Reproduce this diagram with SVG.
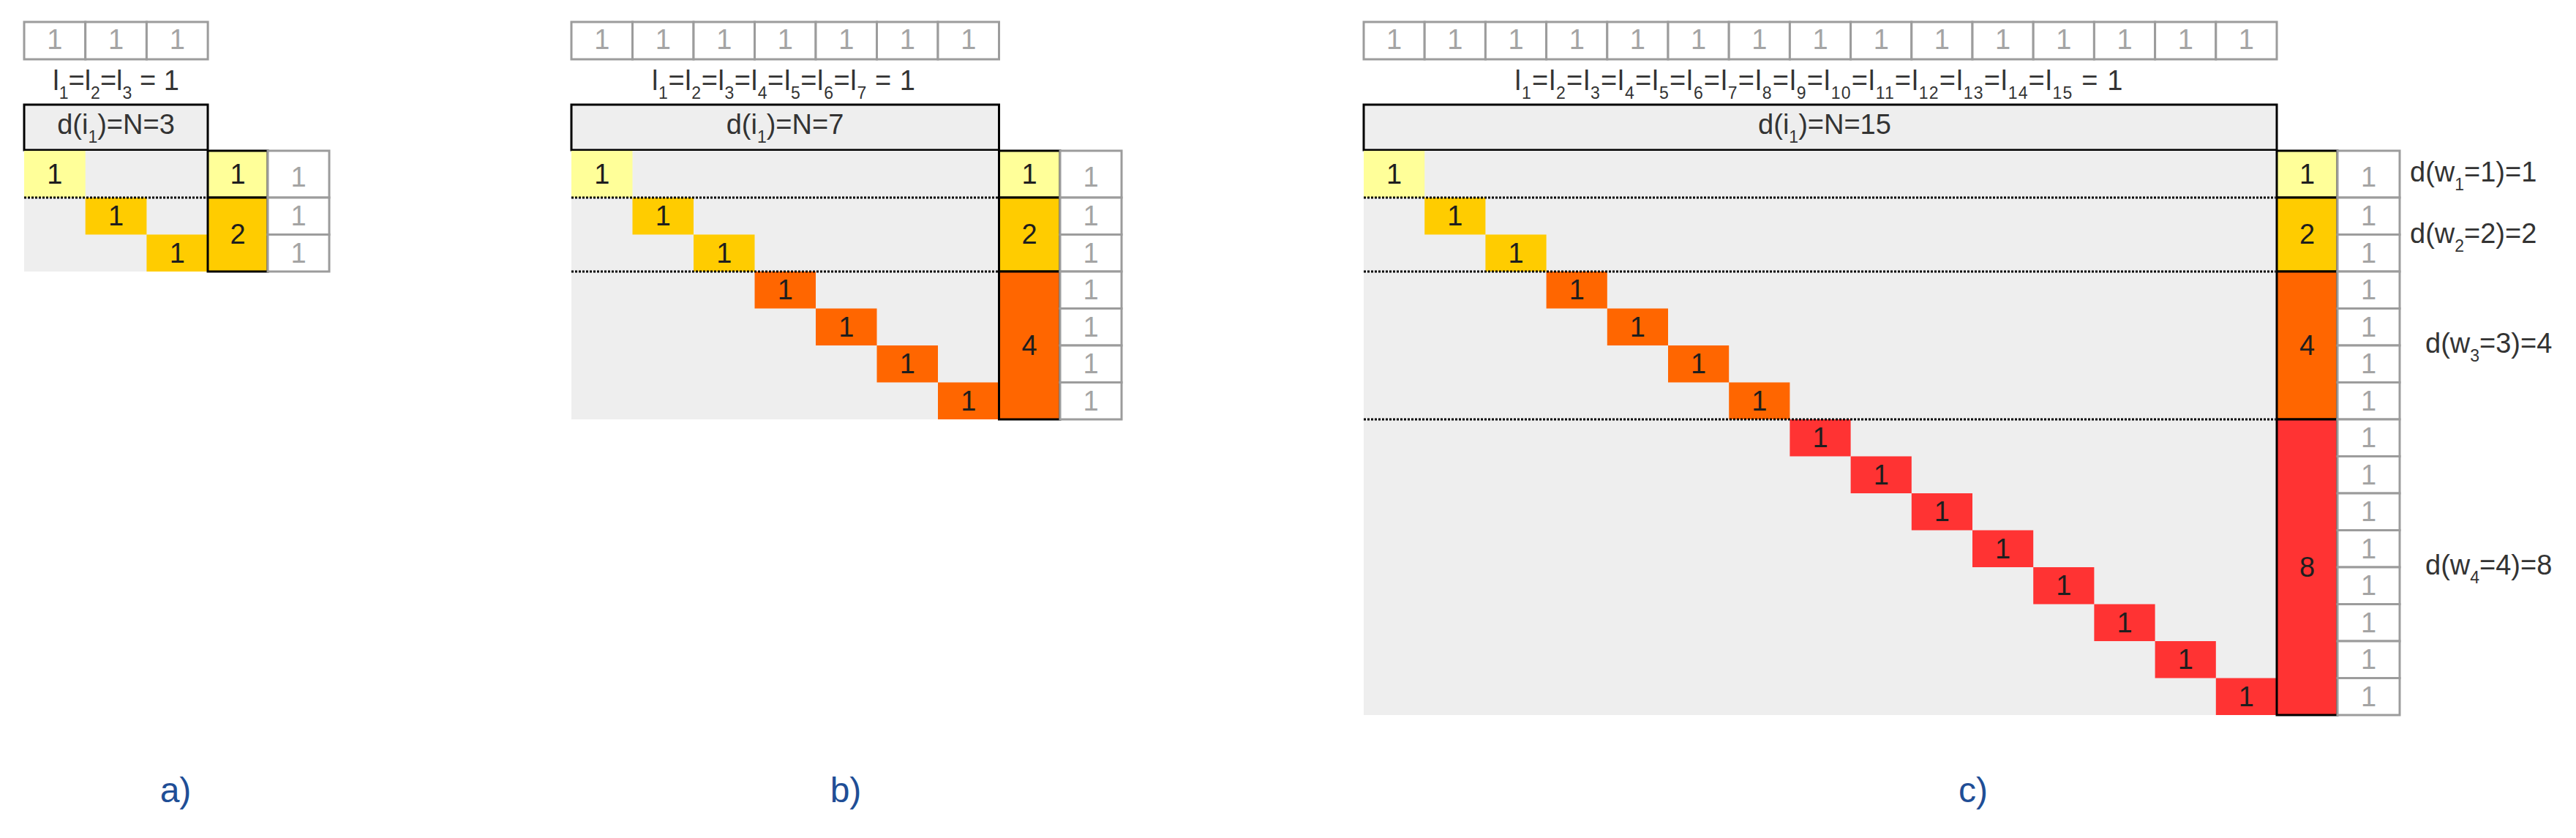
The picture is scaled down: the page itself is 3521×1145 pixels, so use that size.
<svg xmlns="http://www.w3.org/2000/svg" width="3521" height="1145" viewBox="0 0 3521 1145">
<style>
.gbox{fill:#fff;stroke:#9c9c9c;stroke-width:3}
.bg{fill:#eeeeee}
.hdr{fill:#eeeeee;stroke:#000;stroke-width:3}
.blk{stroke:#000;stroke-width:3}
.dot{stroke:#000;stroke-width:3;stroke-dasharray:3 2;fill:none}
.c1{fill:#ffff99}.c2{fill:#ffcc00}.c3{fill:#ff6600}.c4{fill:#ff3333}
text{font-family:"Liberation Sans",Arial,sans-serif;font-size:38px}
.n{text-anchor:middle;fill:#1e1e1e}
.g{text-anchor:middle;fill:#a4a4a4}
.lbl{text-anchor:middle;fill:#333}
.rl{fill:#333}
.sub{font-size:23px}
.cap{font-size:48px;fill:#1f4e96;text-anchor:middle}
</style>
<rect width="3521" height="1145" fill="#fff"/>

<!-- ================= PANEL A ================= -->
<g id="panel-a">
 <g id="a-top">
  <rect class="gbox" x="33" y="30" width="83.7" height="51"/>
  <rect class="gbox" x="116.7" y="30" width="83.7" height="51"/>
  <rect class="gbox" x="200.4" y="30" width="83.7" height="51"/>
  <text class="g" x="74.85" y="67">1</text>
  <text class="g" x="158.55" y="67">1</text>
  <text class="g" x="242.25" y="67">1</text>
 </g>
 <g id="a-label">
  <text class="lbl" x="158.5" y="123">l<tspan class="sub" dy="12">1</tspan><tspan dy="-12">=l</tspan><tspan class="sub" dy="12">2</tspan><tspan dy="-12">=l</tspan><tspan class="sub" dy="12">3</tspan><tspan dy="-12"> = 1</tspan></text>
 </g>
 <g id="a-header">
  <rect class="hdr" x="33" y="143" width="251" height="62"/>
  <text class="lbl" x="158.5" y="183">d(i<tspan class="sub" dy="12">1</tspan><tspan dy="-12">)=N=3</tspan></text>
 </g>
 <g id="a-matrix">
  <rect class="bg" x="33" y="206" width="251" height="165"/>
  <rect class="c1" x="33" y="206" width="83.7" height="64"/>
  <rect class="c2" x="116.7" y="270" width="83.7" height="50.5"/>
  <rect class="c2" x="200.4" y="320.5" width="83.7" height="50.5"/>
  <text class="n" x="74.85" y="251">1</text>
  <text class="n" x="158.55" y="308">1</text>
  <text class="n" x="242.25" y="359">1</text>
  <line class="dot" x1="33" y1="270" x2="282" y2="270"/>
 </g>
 <g id="a-weights">
  <rect class="c1 blk" x="284" y="206" width="82" height="64"/>
  <rect class="c2 blk" x="284" y="270" width="82" height="101"/>
  <text class="n" x="325" y="251">1</text>
  <text class="n" x="325" y="333">2</text>
 </g>
 <g id="a-ones">
  <rect class="gbox" x="366" y="206" width="84" height="64"/>
  <rect class="gbox" x="366" y="270" width="84" height="50.5"/>
  <rect class="gbox" x="366" y="320.5" width="84" height="50.5"/>
  <text class="g" x="408" y="255">1</text>
  <text class="g" x="408" y="308">1</text>
  <text class="g" x="408" y="359">1</text>
 </g>
 <text id="a-caption" class="cap" x="240" y="1096">a)</text>
</g>

<!-- ================= PANEL B ================= -->
<g id="panel-b">
 <g id="b-top">
  <rect class="gbox" x="781" y="30" width="83.5" height="51"/>
  <rect class="gbox" x="864.5" y="30" width="83.5" height="51"/>
  <rect class="gbox" x="948" y="30" width="83.5" height="51"/>
  <rect class="gbox" x="1031.5" y="30" width="83.5" height="51"/>
  <rect class="gbox" x="1115" y="30" width="83.5" height="51"/>
  <rect class="gbox" x="1198.5" y="30" width="83.5" height="51"/>
  <rect class="gbox" x="1282" y="30" width="83.5" height="51"/>
  <text class="g" x="822.75" y="67">1</text>
  <text class="g" x="906.25" y="67">1</text>
  <text class="g" x="989.75" y="67">1</text>
  <text class="g" x="1073.25" y="67">1</text>
  <text class="g" x="1156.75" y="67">1</text>
  <text class="g" x="1240.25" y="67">1</text>
  <text class="g" x="1323.75" y="67">1</text>
 </g>
 <g id="b-label">
  <text class="lbl" x="1071" y="123" textLength="360" lengthAdjust="spacing">l<tspan class="sub" dy="12">1</tspan><tspan dy="-12">=l</tspan><tspan class="sub" dy="12">2</tspan><tspan dy="-12">=l</tspan><tspan class="sub" dy="12">3</tspan><tspan dy="-12">=l</tspan><tspan class="sub" dy="12">4</tspan><tspan dy="-12">=l</tspan><tspan class="sub" dy="12">5</tspan><tspan dy="-12">=l</tspan><tspan class="sub" dy="12">6</tspan><tspan dy="-12">=l</tspan><tspan class="sub" dy="12">7</tspan><tspan dy="-12"> = 1</tspan></text>
 </g>
 <g id="b-header">
  <rect class="hdr" x="781" y="143" width="584.5" height="62"/>
  <text class="lbl" x="1073" y="183">d(i<tspan class="sub" dy="12">1</tspan><tspan dy="-12">)=N=7</tspan></text>
 </g>
 <g id="b-matrix">
  <rect class="bg" x="781" y="206" width="584.5" height="367"/>
  <rect class="c1" x="781" y="206" width="83.5" height="64"/>
  <rect class="c2" x="864.5" y="270" width="83.5" height="50.5"/>
  <rect class="c2" x="948" y="320.5" width="83.5" height="50.5"/>
  <rect class="c3" x="1031.5" y="371" width="83.5" height="50.5"/>
  <rect class="c3" x="1115" y="421.5" width="83.5" height="50.5"/>
  <rect class="c3" x="1198.5" y="472" width="83.5" height="50.5"/>
  <rect class="c3" x="1282" y="522.5" width="83.5" height="50.5"/>
  <text class="n" x="822.75" y="251">1</text>
  <text class="n" x="906.25" y="308">1</text>
  <text class="n" x="989.75" y="359">1</text>
  <text class="n" x="1073.25" y="409">1</text>
  <text class="n" x="1156.75" y="460">1</text>
  <text class="n" x="1240.25" y="510">1</text>
  <text class="n" x="1323.75" y="561">1</text>
  <line class="dot" x1="781" y1="270" x2="1364" y2="270"/>
  <line class="dot" x1="781" y1="371" x2="1364" y2="371"/>
 </g>
 <g id="b-weights">
  <rect class="c1 blk" x="1365.5" y="206" width="83.5" height="64"/>
  <rect class="c2 blk" x="1365.5" y="270" width="83.5" height="101"/>
  <rect class="c3 blk" x="1365.5" y="371" width="83.5" height="202"/>
  <text class="n" x="1407" y="251">1</text>
  <text class="n" x="1407" y="333">2</text>
  <text class="n" x="1407" y="485">4</text>
 </g>
 <g id="b-ones">
  <rect class="gbox" x="1449" y="206" width="84" height="64"/>
  <rect class="gbox" x="1449" y="270" width="84" height="50.5"/>
  <rect class="gbox" x="1449" y="320.5" width="84" height="50.5"/>
  <rect class="gbox" x="1449" y="371" width="84" height="50.5"/>
  <rect class="gbox" x="1449" y="421.5" width="84" height="50.5"/>
  <rect class="gbox" x="1449" y="472" width="84" height="50.5"/>
  <rect class="gbox" x="1449" y="522.5" width="84" height="50.5"/>
  <text class="g" x="1491" y="255">1</text>
  <text class="g" x="1491" y="308">1</text>
  <text class="g" x="1491" y="359">1</text>
  <text class="g" x="1491" y="409">1</text>
  <text class="g" x="1491" y="460">1</text>
  <text class="g" x="1491" y="510">1</text>
  <text class="g" x="1491" y="561">1</text>
 </g>
 <text id="b-caption" class="cap" x="1156" y="1096">b)</text>
</g>

<!-- ================= PANEL C ================= -->
<g id="panel-c">
 <g id="c-top">
  <rect class="gbox" x="1864" y="30" width="83.2" height="51"/>
  <rect class="gbox" x="1947.2" y="30" width="83.2" height="51"/>
  <rect class="gbox" x="2030.4" y="30" width="83.2" height="51"/>
  <rect class="gbox" x="2113.6" y="30" width="83.2" height="51"/>
  <rect class="gbox" x="2196.8" y="30" width="83.2" height="51"/>
  <rect class="gbox" x="2280" y="30" width="83.2" height="51"/>
  <rect class="gbox" x="2363.2" y="30" width="83.2" height="51"/>
  <rect class="gbox" x="2446.4" y="30" width="83.2" height="51"/>
  <rect class="gbox" x="2529.6" y="30" width="83.2" height="51"/>
  <rect class="gbox" x="2612.8" y="30" width="83.2" height="51"/>
  <rect class="gbox" x="2696" y="30" width="83.2" height="51"/>
  <rect class="gbox" x="2779.2" y="30" width="83.2" height="51"/>
  <rect class="gbox" x="2862.4" y="30" width="83.2" height="51"/>
  <rect class="gbox" x="2945.6" y="30" width="83.2" height="51"/>
  <rect class="gbox" x="3028.8" y="30" width="83.2" height="51"/>
  <text class="g" x="1905.6" y="67">1</text>
  <text class="g" x="1988.8" y="67">1</text>
  <text class="g" x="2072" y="67">1</text>
  <text class="g" x="2155.2" y="67">1</text>
  <text class="g" x="2238.4" y="67">1</text>
  <text class="g" x="2321.6" y="67">1</text>
  <text class="g" x="2404.8" y="67">1</text>
  <text class="g" x="2488" y="67">1</text>
  <text class="g" x="2571.2" y="67">1</text>
  <text class="g" x="2654.4" y="67">1</text>
  <text class="g" x="2737.6" y="67">1</text>
  <text class="g" x="2820.8" y="67">1</text>
  <text class="g" x="2904" y="67">1</text>
  <text class="g" x="2987.2" y="67">1</text>
  <text class="g" x="3070.4" y="67">1</text>
 </g>
 <g id="c-label">
  <text class="lbl" x="2486" y="123" textLength="831" lengthAdjust="spacing">l<tspan class="sub" dy="12">1</tspan><tspan dy="-12">=l</tspan><tspan class="sub" dy="12">2</tspan><tspan dy="-12">=l</tspan><tspan class="sub" dy="12">3</tspan><tspan dy="-12">=l</tspan><tspan class="sub" dy="12">4</tspan><tspan dy="-12">=l</tspan><tspan class="sub" dy="12">5</tspan><tspan dy="-12">=l</tspan><tspan class="sub" dy="12">6</tspan><tspan dy="-12">=l</tspan><tspan class="sub" dy="12">7</tspan><tspan dy="-12">=l</tspan><tspan class="sub" dy="12">8</tspan><tspan dy="-12">=l</tspan><tspan class="sub" dy="12">9</tspan><tspan dy="-12">=l</tspan><tspan class="sub" dy="12">10</tspan><tspan dy="-12">=l</tspan><tspan class="sub" dy="12">11</tspan><tspan dy="-12">=l</tspan><tspan class="sub" dy="12">12</tspan><tspan dy="-12">=l</tspan><tspan class="sub" dy="12">13</tspan><tspan dy="-12">=l</tspan><tspan class="sub" dy="12">14</tspan><tspan dy="-12">=l</tspan><tspan class="sub" dy="12">15</tspan><tspan dy="-12"> = 1</tspan></text>
 </g>
 <g id="c-header">
  <rect class="hdr" x="1864" y="143" width="1248" height="62"/>
  <text class="lbl" x="2494" y="183">d(i<tspan class="sub" dy="12">1</tspan><tspan dy="-12">)=N=15</tspan></text>
 </g>
 <g id="c-matrix">
  <rect class="bg" x="1864" y="206" width="1248" height="771"/>
  <rect class="c1" x="1864" y="206" width="83.2" height="64"/>
  <rect class="c2" x="1947.2" y="270" width="83.2" height="50.5"/>
  <rect class="c2" x="2030.4" y="320.5" width="83.2" height="50.5"/>
  <rect class="c3" x="2113.6" y="371" width="83.2" height="50.5"/>
  <rect class="c3" x="2196.8" y="421.5" width="83.2" height="50.5"/>
  <rect class="c3" x="2280" y="472" width="83.2" height="50.5"/>
  <rect class="c3" x="2363.2" y="522.5" width="83.2" height="50.5"/>
  <rect class="c4" x="2446.4" y="573" width="83.2" height="50.5"/>
  <rect class="c4" x="2529.6" y="623.5" width="83.2" height="50.5"/>
  <rect class="c4" x="2612.8" y="674" width="83.2" height="50.5"/>
  <rect class="c4" x="2696" y="724.5" width="83.2" height="50.5"/>
  <rect class="c4" x="2779.2" y="775" width="83.2" height="50.5"/>
  <rect class="c4" x="2862.4" y="825.5" width="83.2" height="50.5"/>
  <rect class="c4" x="2945.6" y="876" width="83.2" height="50.5"/>
  <rect class="c4" x="3028.8" y="926.5" width="83.2" height="50.5"/>
  <text class="n" x="1905.6" y="251">1</text>
  <text class="n" x="1988.8" y="308">1</text>
  <text class="n" x="2072" y="359">1</text>
  <text class="n" x="2155.2" y="409">1</text>
  <text class="n" x="2238.4" y="460">1</text>
  <text class="n" x="2321.6" y="510">1</text>
  <text class="n" x="2404.8" y="561">1</text>
  <text class="n" x="2488" y="611">1</text>
  <text class="n" x="2571.2" y="662">1</text>
  <text class="n" x="2654.4" y="712">1</text>
  <text class="n" x="2737.6" y="763">1</text>
  <text class="n" x="2820.8" y="813">1</text>
  <text class="n" x="2904" y="864">1</text>
  <text class="n" x="2987.2" y="914">1</text>
  <text class="n" x="3070.4" y="965">1</text>
  <line class="dot" x1="1864" y1="270" x2="3110" y2="270"/>
  <line class="dot" x1="1864" y1="371" x2="3110" y2="371"/>
  <line class="dot" x1="1864" y1="573" x2="3110" y2="573"/>
 </g>
 <g id="c-weights">
  <rect class="c1 blk" x="3112" y="206" width="83" height="64"/>
  <rect class="c2 blk" x="3112" y="270" width="83" height="101"/>
  <rect class="c3 blk" x="3112" y="371" width="83" height="202"/>
  <rect class="c4 blk" x="3112" y="573" width="83" height="404"/>
  <text class="n" x="3153.5" y="251">1</text>
  <text class="n" x="3153.5" y="333">2</text>
  <text class="n" x="3153.5" y="485">4</text>
  <text class="n" x="3153.5" y="788">8</text>
 </g>
 <g id="c-ones">
  <rect class="gbox" x="3195" y="206" width="85" height="64"/>
  <rect class="gbox" x="3195" y="270" width="85" height="50.5"/>
  <rect class="gbox" x="3195" y="320.5" width="85" height="50.5"/>
  <rect class="gbox" x="3195" y="371" width="85" height="50.5"/>
  <rect class="gbox" x="3195" y="421.5" width="85" height="50.5"/>
  <rect class="gbox" x="3195" y="472" width="85" height="50.5"/>
  <rect class="gbox" x="3195" y="522.5" width="85" height="50.5"/>
  <rect class="gbox" x="3195" y="573" width="85" height="50.5"/>
  <rect class="gbox" x="3195" y="623.5" width="85" height="50.5"/>
  <rect class="gbox" x="3195" y="674" width="85" height="50.5"/>
  <rect class="gbox" x="3195" y="724.5" width="85" height="50.5"/>
  <rect class="gbox" x="3195" y="775" width="85" height="50.5"/>
  <rect class="gbox" x="3195" y="825.5" width="85" height="50.5"/>
  <rect class="gbox" x="3195" y="876" width="85" height="50.5"/>
  <rect class="gbox" x="3195" y="926.5" width="85" height="50.5"/>
  <text class="g" x="3237.5" y="255">1</text>
  <text class="g" x="3237.5" y="308">1</text>
  <text class="g" x="3237.5" y="359">1</text>
  <text class="g" x="3237.5" y="409">1</text>
  <text class="g" x="3237.5" y="460">1</text>
  <text class="g" x="3237.5" y="510">1</text>
  <text class="g" x="3237.5" y="561">1</text>
  <text class="g" x="3237.5" y="611">1</text>
  <text class="g" x="3237.5" y="662">1</text>
  <text class="g" x="3237.5" y="712">1</text>
  <text class="g" x="3237.5" y="763">1</text>
  <text class="g" x="3237.5" y="813">1</text>
  <text class="g" x="3237.5" y="864">1</text>
  <text class="g" x="3237.5" y="914">1</text>
  <text class="g" x="3237.5" y="965">1</text>
 </g>
 <g id="c-degrees">
  <text class="rl" x="3294" y="248">d(w<tspan class="sub" dy="12">1</tspan><tspan dy="-12">=1)=1</tspan></text>
  <text class="rl" x="3294" y="332">d(w<tspan class="sub" dy="12">2</tspan><tspan dy="-12">=2)=2</tspan></text>
  <text class="rl" x="3315" y="482">d(w<tspan class="sub" dy="12">3</tspan><tspan dy="-12">=3)=4</tspan></text>
  <text class="rl" x="3315" y="785">d(w<tspan class="sub" dy="12">4</tspan><tspan dy="-12">=4)=8</tspan></text>
 </g>
 <text id="c-caption" class="cap" x="2697" y="1096">c)</text>
</g>
<g id="connectors"/>
</svg>
